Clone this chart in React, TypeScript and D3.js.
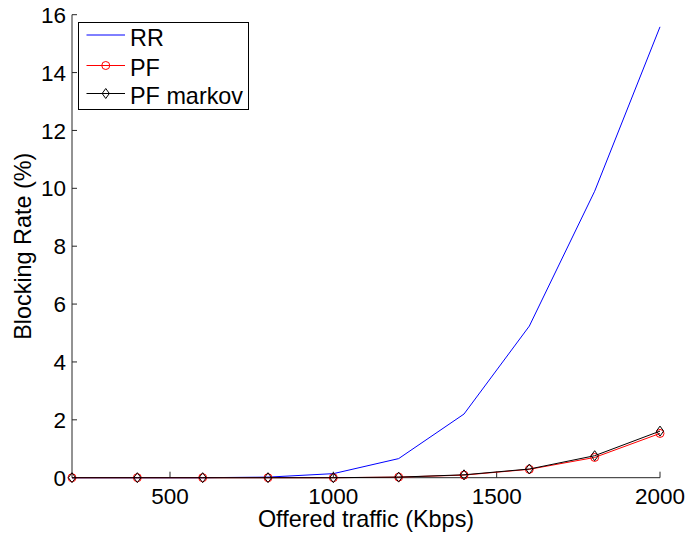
import React from "react";
import * as d3 from "d3";

// Offered traffic (Kbps) and blocking rate (%) for each scheduler
const traffic = [200, 400, 600, 800, 1000, 1200, 1400, 1600, 1800, 2000];
const rrRate = [0, 0, 0, 0.02, 0.14, 0.66, 2.2, 5.24, 9.9, 15.58];
const pfRate = [0, 0, 0, 0, 0, 0.02, 0.09, 0.29, 0.7, 1.53];
const pfMarkovRate = [0, 0, 0, 0, 0, 0.02, 0.1, 0.3, 0.76, 1.61];

const xTicks = [500, 1000, 1500, 2000];
const yTicks = [0, 2, 4, 6, 8, 10, 12, 14, 16];

const seriesNames = ["RR", "PF", "PF markov"];

const W = 687;
const H = 534;
const FONT = "'Liberation Sans', Arial, Helvetica, sans-serif";

export default function App() {
  const left = 72;
  const right = 660;
  const top = 14.7;
  const bottom = 477.7;

  const x = d3.scaleLinear().domain([200, 2000]).range([left, right]);
  const y = d3.scaleLinear().domain([0, 16]).range([bottom, top]);

  const line = d3
    .line<[number, number]>()
    .x((d) => x(d[0]))
    .y((d) => y(d[1]));

  const pts = (vals: number[]) => traffic.map((t, i) => [t, vals[i]] as [number, number]);

  const diamond = (cx: number, cy: number) =>
    `M${cx},${cy - 5} L${cx + 3.6},${cy} L${cx},${cy + 5} L${cx - 3.6},${cy} Z`;

  const axisColor = "#262626";

  // legend geometry
  const lg = { x: 78.5, y: 22.5, w: 170, h: 87 };
  const rowY = [35, 65.5, 93.5];
  const sx0 = 86.5;
  const sx1 = 125;
  const smid = (sx0 + sx1) / 2;

  return (
    <svg
      width={W}
      height={H}
      style={{ position: "absolute", left: 0, top: 0, background: "#fff" }}
      fontFamily={FONT}
    >
      <rect width={W} height={H} fill="#fff" />

      {/* axes */}
      <line x1={left} x2={left} y1={top} y2={bottom} stroke={axisColor} strokeWidth={1} />
      <line x1={left} x2={right} y1={bottom} y2={bottom} stroke={axisColor} strokeWidth={1} />

      {yTicks.map((t) => (
        <g key={"y" + t}>
          <line x1={left} x2={left + 5} y1={y(t)} y2={y(t)} stroke={axisColor} />
          <text
            x={left - 6}
            y={y(t)}
            dy="0.36em"
            textAnchor="end"
            fontSize={22.5}
            fill="#000"
          >
            {t}
          </text>
        </g>
      ))}

      {xTicks.map((t) => (
        <g key={"x" + t}>
          <line x1={x(t)} x2={x(t)} y1={bottom} y2={bottom - 6} stroke={axisColor} />
          <text x={x(t)} y={504} textAnchor="middle" fontSize={22.5} fill="#000">
            {t}
          </text>
        </g>
      ))}

      <text x={366} y={527} textAnchor="middle" fontSize={23.4} fill="#000">
        Offered traffic (Kbps)
      </text>
      <text
        transform={`translate(31,${(top + bottom) / 2}) rotate(-90)`}
        textAnchor="middle"
        fontSize={23.4}
        fill="#000"
      >
        Blocking Rate (%)
      </text>

      {/* series */}
      <path d={line(pts(rrRate)) || ""} fill="none" stroke="#0000ff" strokeWidth={1} />
      <path d={line(pts(pfRate)) || ""} fill="none" stroke="#ff0000" strokeWidth={1} />
      {pts(pfRate).map((p, i) => (
        <circle key={"pf" + i} cx={x(p[0])} cy={y(p[1])} r={4} fill="none" stroke="#ff0000" />
      ))}
      <path d={line(pts(pfMarkovRate)) || ""} fill="none" stroke="#000" strokeWidth={1} />
      {pts(pfMarkovRate).map((p, i) => (
        <path key={"pm" + i} d={diamond(x(p[0]), y(p[1]))} fill="none" stroke="#000" />
      ))}

      {/* legend */}
      <rect x={lg.x} y={lg.y} width={lg.w} height={lg.h} fill="#fff" stroke="#000" />
      <line x1={sx0} x2={sx1} y1={rowY[0]} y2={rowY[0]} stroke="#0000ff" />
      <line x1={sx0} x2={sx1} y1={rowY[1]} y2={rowY[1]} stroke="#ff0000" />
      <circle cx={smid} cy={rowY[1]} r={4} fill="none" stroke="#ff0000" />
      <line x1={sx0} x2={sx1} y1={rowY[2]} y2={rowY[2]} stroke="#000" />
      <path d={diamond(smid, rowY[2])} fill="none" stroke="#000" />
      {seriesNames.map((n, i) => (
        <text key={n} x={130} y={rowY[i] + 10.5} fontSize={23.4} fill="#000">
          {n}
        </text>
      ))}
    </svg>
  );
}
